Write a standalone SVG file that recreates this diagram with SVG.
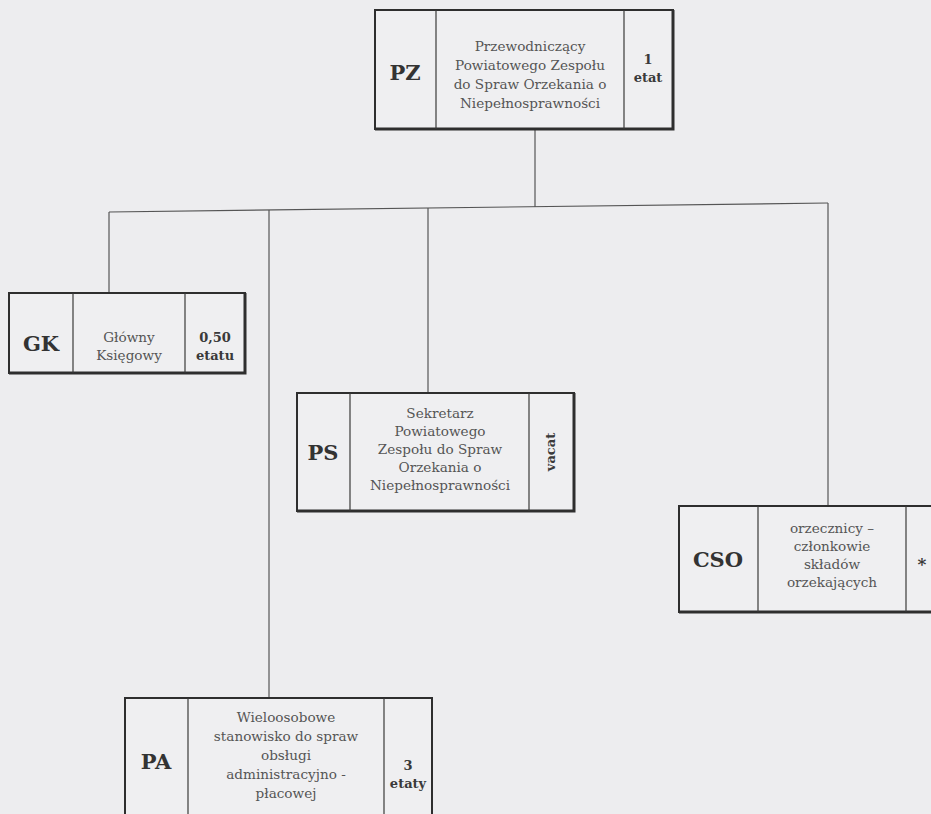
<svg xmlns="http://www.w3.org/2000/svg" width="931" height="814" viewBox="0 0 931 814">
<style>
.bg{fill:#ededef}
.box{fill:#efeff1;stroke:#2e2e2e;stroke-width:2}
.sh{stroke:#2e2e2e;stroke-width:3;fill:none}
.div{stroke:#3a3a3a;stroke-width:1.2}
.con{stroke:#555;stroke-width:1.2;fill:none}
.code{font-family:"DejaVu Serif","Liberation Serif",serif;font-weight:bold;font-size:21px;fill:#333;text-anchor:middle}
.desc{font-family:"DejaVu Serif","Liberation Serif",serif;font-size:13.6px;fill:#555;text-anchor:middle}
.num{font-family:"DejaVu Serif","Liberation Serif",serif;font-weight:bold;font-size:13px;fill:#3a3a3a;text-anchor:middle}
</style>
<rect class="bg" x="0" y="0" width="931" height="814"/>
<g id="connectors">
<line class="con" x1="535" y1="130" x2="535" y2="207"/>
<line class="con" x1="109" y1="212" x2="828" y2="203"/>
<line class="con" x1="109" y1="212" x2="109" y2="293"/>
<line class="con" x1="269" y1="210" x2="269" y2="698"/>
<line class="con" x1="428" y1="208" x2="428" y2="393"/>
<line class="con" x1="828" y1="203" x2="828" y2="506"/>
</g>
<g id="PZ">
<rect class="box" x="375" y="10" width="298" height="119"/>
<polyline class="sh" points="375,129 673,129 673,10"/>
<line class="div" x1="436" y1="10" x2="436" y2="129"/>
<line class="div" x1="624" y1="10" x2="624" y2="129"/>
<text class="code" x="405" y="80">PZ</text>
<text class="desc" x="530" y="51">Przewodniczący</text>
<text class="desc" x="530" y="70">Powiatowego Zespołu</text>
<text class="desc" x="530" y="89">do Spraw Orzekania o</text>
<text class="desc" x="530" y="108">Niepełnosprawności</text>
<text class="num" x="648" y="64">1</text>
<text class="num" x="648" y="82">etat</text>
</g>
<g id="GK">
<rect class="box" x="9" y="293" width="236" height="80"/>
<polyline class="sh" points="9,373 245,373 245,293"/>
<line class="div" x1="73" y1="293" x2="73" y2="373"/>
<line class="div" x1="185" y1="293" x2="185" y2="373"/>
<text class="code" x="41" y="351">GK</text>
<text class="desc" x="129" y="342">Główny</text>
<text class="desc" x="129" y="360">Księgowy</text>
<text class="num" x="215" y="342">0,50</text>
<text class="num" x="215" y="360">etatu</text>
</g>
<g id="PS">
<rect class="box" x="297" y="393" width="277" height="118"/>
<polyline class="sh" points="297,511 574,511 574,393"/>
<line class="div" x1="350" y1="393" x2="350" y2="511"/>
<line class="div" x1="529" y1="393" x2="529" y2="511"/>
<text class="code" x="323" y="460">PS</text>
<text class="desc" x="440" y="418">Sekretarz</text>
<text class="desc" x="440" y="436">Powiatowego</text>
<text class="desc" x="440" y="454">Zespołu do Spraw</text>
<text class="desc" x="440" y="472">Orzekania o</text>
<text class="desc" x="440" y="490">Niepełnosprawności</text>
<text class="num" transform="translate(555,452) rotate(-90)" x="0" y="0">vacat</text>
</g>
<g id="CSO">
<rect class="box" x="679" y="506" width="256" height="106"/>
<polyline class="sh" points="679,612 935,612"/>
<line class="div" x1="758" y1="506" x2="758" y2="612"/>
<line class="div" x1="906" y1="506" x2="906" y2="612"/>
<text class="code" x="718" y="567">CSO</text>
<text class="desc" x="832" y="533">orzecznicy –</text>
<text class="desc" x="832" y="551">członkowie</text>
<text class="desc" x="832" y="569">składów</text>
<text class="desc" x="832" y="587">orzekających</text>
<text class="num" x="922" y="570" style="font-size:17px">*</text>
</g>
<g id="PA">
<rect class="box" x="125" y="698" width="307" height="130"/>
<line class="div" x1="188" y1="698" x2="188" y2="828"/>
<line class="div" x1="384" y1="698" x2="384" y2="828"/>
<text class="code" x="156" y="769">PA</text>
<text class="desc" x="286" y="722">Wieloosobowe</text>
<text class="desc" x="286" y="741">stanowisko do spraw</text>
<text class="desc" x="286" y="760">obsługi</text>
<text class="desc" x="286" y="779">administracyjno -</text>
<text class="desc" x="286" y="798">płacowej</text>
<text class="num" x="408" y="770">3</text>
<text class="num" x="408" y="788">etaty</text>
</g>
</svg>
